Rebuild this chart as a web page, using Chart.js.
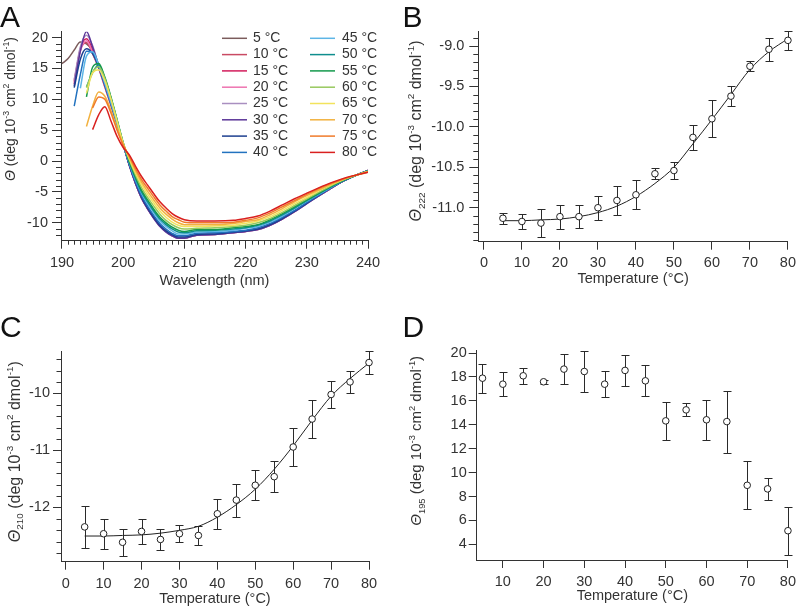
<!DOCTYPE html>
<html>
<head>
<meta charset="utf-8">
<script src="https://cdn.jsdelivr.net/npm/chart.js@4.4.1/dist/chart.umd.min.js"></script>
<style>
html,body{margin:0;padding:0;background:#fff;}
#wrap{position:relative;width:801px;height:610px;overflow:hidden;background:#fff;}
#wrap canvas{position:absolute;}
</style>
</head>
<body>
<div id="wrap">
<canvas id="cA" width="400" height="300" style="left:0px;top:0px"></canvas>
<canvas id="cB" width="401" height="300" style="left:400px;top:0px"></canvas>
<canvas id="cC" width="400" height="310" style="left:0px;top:300px"></canvas>
<canvas id="cD" width="401" height="310" style="left:400px;top:300px"></canvas>
</div>
<script>
// ---------------- DATA ----------------
// Panel A: CD spectra (wavelength in nm, Θ in 10^3 deg cm2 dmol-1)
const wavelengths = [190,191,192,193,194,195,196,197,198,199,200,201,202,203,204,205,206,207,208,209,210,212,215,218,220,222,224,226,228,230,233,236,240];
const tempLabels = ['5 °C','10 °C','15 °C','20 °C','25 °C','30 °C','35 °C','40 °C','45 °C','50 °C','55 °C','60 °C','65 °C','70 °C','75 °C','80 °C'];
const spec05 = [15.8,16.6,18.0,19.3,19.0,17.9,15.2,12.2,9.2,6.0,2.8, -0.6,-3.5,-5.9,-7.6,-9.1,-10.4,-11.3,-12.0,-12.4,-12.4,-11.9,-11.8,-11.5,-11.3,-11.0,-10.3,-9.3,-8.1,-6.8,-5.0,-3.2,-1.5];
const spec10 = [null,null,13.0,18.0,19.2,17.4,15.0,12.0,9.0,5.9,2.7, -0.6,-3.5,-5.9,-7.7,-9.2,-10.5,-11.4,-12.0,-12.4,-12.4,-11.9,-11.8,-11.5,-11.3,-11.0,-10.3,-9.3,-8.1,-6.8,-5.0,-3.2,-1.5];
const spec15 = [null,null,12.5,18.2,19.8,18.1,15.2,12.2,9.2,6.0,2.7, -0.7,-3.6,-6.0,-7.7,-9.2,-10.5,-11.4,-12.1,-12.5,-12.5,-12.0,-11.9,-11.6,-11.4,-11.1,-10.4,-9.4,-8.2,-6.8,-5.0,-3.2,-1.5];
const spec20 = [null,null,12.8,17.8,19.5,17.6,15.1,12.1,9.1,5.9,2.6, -0.6,-3.5,-5.9,-7.7,-9.2,-10.5,-11.4,-12.0,-12.4,-12.3,-11.9,-11.8,-11.5,-11.3,-11.0,-10.3,-9.3,-8.1,-6.8,-5.0,-3.2,-1.5];
const spec25 = [null,null,13.2,18.5,20.4,18.7,15.4,12.3,9.2,6.0,2.7, -0.7,-3.6,-6.0,-7.7,-9.2,-10.5,-11.4,-12.1,-12.5,-12.5,-12.0,-11.9,-11.6,-11.4,-11.1,-10.4,-9.4,-8.2,-6.9,-5.0,-3.2,-1.5];
const spec30 = [null,null,12.2,17.8,21.0,18.5,15.5,12.4,9.3,6.0,2.7, -0.7,-3.6,-6.0,-7.8,-9.3,-10.6,-11.5,-12.1,-12.5,-12.5,-12.0,-11.9,-11.6,-11.4,-11.1,-10.4,-9.4,-8.2,-6.9,-5.0,-3.2,-1.5];
const spec35 = [null,null,11.9,16.5,18.2,17.4,15.2,12.3,9.3,6.0,2.7, -0.6,-3.4,-5.8,-7.6,-9.1,-10.4,-11.3,-11.9,-12.3,-12.3,-11.9,-11.8,-11.5,-11.3,-11.0,-10.3,-9.3,-8.1,-6.8,-4.9,-3.2,-1.5];
const spec40 = [null,null,8.9,14.0,17.8,17.6,15.4,12.4,9.4,6.1,2.8, -0.5,-3.3,-5.6,-7.3,-8.8,-10.1,-11.0,-11.7,-12.1,-12.1,-11.7,-11.6,-11.4,-11.2,-10.8,-10.1,-9.1,-8.0,-6.7,-4.9,-3.2,-1.5];
const spec45 = [null,null,null,11.8,17.0,17.7,15.6,12.6,9.5,6.1,2.7, -0.3,-3.0,-5.2,-6.9,-8.4,-9.7,-10.6,-11.3,-11.8,-11.8,-11.5,-11.4,-11.2,-10.9,-10.6,-9.9,-8.9,-7.7,-6.5,-4.8,-3.1,-1.6];
const spec50 = [null,null,null,null,12.0,14.3,15.6,13.4,10.2,6.6,2.9, -0.2,-2.8,-5.0,-6.6,-8.1,-9.4,-10.3,-11.0,-11.5,-11.6,-11.3,-11.2,-11.0,-10.8,-10.4,-9.7,-8.7,-7.6,-6.4,-4.7,-3.1,-1.6];
const spec55 = [null,null,null,null,10.4,15.2,15.8,13.6,10.4,6.7,3.0, -0.1,-2.5,-4.7,-6.3,-7.8,-9.1,-10.0,-10.7,-11.2,-11.4,-11.1,-11.1,-10.8,-10.6,-10.3,-9.5,-8.5,-7.4,-6.3,-4.6,-3.1,-1.6];
const spec60 = [null,null,null,null,11.9,14.4,15.3,13.4,10.2,6.6,2.9, 0.2,-2.2,-4.3,-5.9,-7.3,-8.6,-9.6,-10.3,-10.8,-11.0,-10.9,-10.8,-10.6,-10.4,-10.0,-9.3,-8.3,-7.2,-6.1,-4.5,-3.0,-1.7];
const spec65 = [null,null,null,null,11.0,14.3,14.8,13.0,10.0,6.4,2.9, 0.4,-1.9,-3.8,-5.4,-6.8,-8.1,-9.1,-9.9,-10.4,-10.6,-10.6,-10.5,-10.4,-10.1,-9.7,-9.0,-8.0,-6.9,-5.9,-4.3,-3.0,-1.7];
const spec70 = [null,null,null,null,5.6,8.9,11.2,10.5,8.2,5.3,2.7, 0.6,-1.5,-3.4,-4.9,-6.3,-7.6,-8.6,-9.4,-10.0,-10.3,-10.3,-10.3,-10.1,-9.8,-9.5,-8.7,-7.7,-6.6,-5.6,-4.2,-2.9,-1.7];
const spec75 = [null,null,null,null,null,8.6,10.4,10.0,7.8,5.0,2.6, 0.8,-1.2,-3.0,-4.4,-5.8,-7.1,-8.1,-9.0,-9.5,-9.9,-10.0,-10.0,-9.9,-9.6,-9.2,-8.4,-7.4,-6.4,-5.4,-4.0,-2.9,-1.8];
const spec80 = [null,null,null,null,null,5.1,7.5,8.8,6.5,4.0,2.2, 1.0,-0.8,-2.5,-3.9,-5.3,-6.6,-7.6,-8.5,-9.1,-9.5,-9.7,-9.7,-9.6,-9.3,-8.9,-8.1,-7.1,-6.1,-5.2,-3.9,-2.8,-1.8];

// Panels B-D: temperature series
const temps = [5,10,15,20,25,30,35,40,45,50,55,60,65,70,75,80];
const theta222 = [-11.13,-11.17,-11.19,-11.11,-11.11,-11.00,-10.91,-10.84,-10.58,-10.54,-10.13,-9.90,-9.62,-9.25,-9.04,-8.93];
const err222   = [0.07,0.09,0.17,0.15,0.14,0.15,0.18,0.18,0.07,0.10,0.15,0.23,0.12,0.06,0.14,0.12];
const fitTemps = [5,10,15,20,25,30,35,40,45,50,55,60,65,70,75,80];
const fit222   = [-11.16,-11.16,-11.15,-11.14,-11.11,-11.06,-10.98,-10.86,-10.70,-10.50,-10.21,-9.91,-9.60,-9.29,-9.07,-8.91];
const theta210 = [-12.34,-12.46,-12.61,-12.42,-12.56,-12.46,-12.49,-12.11,-11.87,-11.61,-11.46,-10.94,-10.45,-10.02,-9.80,-9.46];
const err210   = [0.37,0.26,0.24,0.22,0.19,0.15,0.16,0.26,0.29,0.26,0.27,0.33,0.33,0.23,0.19,0.20];
const fit210   = [-12.50,-12.50,-12.49,-12.48,-12.45,-12.40,-12.33,-12.17,-11.95,-11.68,-11.33,-10.92,-10.47,-10.05,-9.74,-9.47];
const theta195 = [17.9,17.4,18.1,17.6,18.66,18.46,17.4,18.55,17.68,14.33,15.25,14.42,14.27,8.94,8.64,5.14];
const err195   = [1.2,1.0,0.65,0.15,1.25,1.75,1.1,1.3,1.3,1.6,0.55,1.65,2.6,2.0,0.9,2.0];

// Tick values
const ticksAx = [190,200,210,220,230,240];
const ticksAy = [-10,-5,0,5,10,15,20];
const ticksTemp = [0,10,20,30,40,50,60,70,80];
const ticksDx = [10,20,30,40,50,60,70,80];
const ticksBy = [-11.0,-10.5,-10.0,-9.5,-9.0];
const ticksCy = [-12,-11,-10];
const ticksDy = [4,6,8,10,12,14,16,18,20];

// Texts
const thetaUnitRuns = [{t:' (deg 10'},{t:'-3',sup:true},{t:' cm'},{t:'2',sup:true},{t:' dmol'},{t:'-1',sup:true},{t:')'}];

// ---------------- STYLE / HELPERS ----------------
const FONT = '"Liberation Sans", Arial, Helvetica, sans-serif';
const INK = '#333333';
const lineColors = ['#7b5c5c','#c94a63','#d21c5c','#ee74b0','#a98fc0','#5b3598','#1d3f8f','#2272bf','#5db5e6','#0f8e8e','#14994c','#97c95e','#f2e35c','#f2b13f','#f07a2a','#d9201f'];

Chart.defaults.font.family = FONT;
Chart.defaults.color = INK;

function runFont(r, size){
  const s = (r.sup || r.sub) ? +(size*0.62).toFixed(1) : size;
  return (r.it ? 'italic ' : '') + s + 'px ' + FONT;
}
function richWidth(ctx, runs, size){
  let w = 0;
  for (const r of runs){ ctx.font = runFont(r,size); w += ctx.measureText(r.t).width; }
  return w;
}
function drawRich(ctx, runs, size, x0, y0){
  let x = x0;
  for (const r of runs){
    ctx.font = runFont(r,size);
    const dy = r.sup ? -size*0.42 : (r.sub ? size*0.24 : 0);
    ctx.fillText(r.t, x, y0+dy);
    x += ctx.measureText(r.t).width;
  }
}

const cfgs = {};
const decor = {
  id:'decor',
  beforeDatasetsDraw(chart){
    const c = cfgs[chart.canvas.id]; if(!c || !c.errors) return;
    const e = c.errors, xs = chart.scales.x, ys = chart.scales.y, ctx = chart.ctx;
    ctx.save(); ctx.strokeStyle = '#2a2a2a'; ctx.lineWidth = 1; ctx.beginPath();
    e.x.forEach((t,i)=>{
      const px = Math.round(xs.getPixelForValue(t)) + 0.5;
      const yT = Math.round(ys.getPixelForValue(e.y[i]+e.err[i])) + 0.5;
      const yB = Math.round(ys.getPixelForValue(e.y[i]-e.err[i])) + 0.5;
      ctx.moveTo(px,yT); ctx.lineTo(px,yB);
      ctx.moveTo(px-e.cap,yT); ctx.lineTo(px+e.cap,yT);
      ctx.moveTo(px-e.cap,yB); ctx.lineTo(px+e.cap,yB);
    });
    ctx.stroke(); ctx.restore();
  },
  afterDraw(chart){
    const c = cfgs[chart.canvas.id]; if(!c) return;
    const ctx = chart.ctx, ca = chart.chartArea;
    ctx.save();
    // minor ticks
    ctx.strokeStyle = INK; ctx.lineWidth = 1; ctx.beginPath();
    (c.minor||[]).forEach(m=>{
      const sc = chart.scales[m.axis];
      for(let i=0;;i++){
        const v = +(m.start + i*m.step).toFixed(6);
        if (v > sc.max + 1e-9) break;
        if (v < sc.min - 1e-9) continue;
        if (m.major.some(q=>Math.abs(q-v)<1e-6)) continue;
        const p = Math.round(sc.getPixelForValue(v)) + 0.5;
        if (sc.isHorizontal()){ ctx.moveTo(p, ca.bottom); ctx.lineTo(p, ca.bottom + m.len); }
        else { ctx.moveTo(ca.left, p); ctx.lineTo(ca.left - m.len, p); }
      }
    });
    ctx.stroke();
    // panel letter
    ctx.fillStyle = '#111'; ctx.textBaseline = 'alphabetic'; ctx.textAlign = 'left';
    ctx.font = '30px ' + FONT;
    ctx.fillText(c.letter.t, c.letter.x, c.letter.y);
    // x title
    ctx.fillStyle = INK;
    const xt = c.xTitle;
    const xw = richWidth(ctx, xt.runs, xt.size);
    drawRich(ctx, xt.runs, xt.size, (ca.left+ca.right)/2 - xw/2, ca.bottom + xt.dy);
    // y title (rotated)
    const yt = c.yTitle;
    const yw = richWidth(ctx, yt.runs, yt.size);
    ctx.save(); ctx.translate(yt.x, yt.y); ctx.rotate(-Math.PI/2);
    drawRich(ctx, yt.runs, yt.size, -yw/2, 0);
    ctx.restore();
    // legend
    if (c.legend){
      const L = c.legend;
      ctx.textBaseline = 'middle'; ctx.font = L.size + 'px ' + FONT;
      chart.data.datasets.forEach((ds,i)=>{
        const col = i < L.perCol ? 0 : 1, row = i % L.perCol;
        const y = L.y0 + row*L.dy;
        ctx.strokeStyle = ds.borderColor; ctx.lineWidth = 1.5;
        ctx.beginPath(); ctx.moveTo(L.cols[col][0], y); ctx.lineTo(L.cols[col][1], y); ctx.stroke();
        ctx.fillStyle = INK; ctx.fillText(ds.label, L.cols[col][2], y);
      });
    }
    ctx.restore();
  }
};

function linScale(min, max, ticks, fmt, o){
  return {
    type:'linear', min:min, max:max,
    afterBuildTicks: sc => { sc.ticks = ticks.map(v=>({value:v})); },
    afterFit: sc => { if (sc.isHorizontal()) sc.height = o.size; else sc.width = o.size; },
    ticks:{ autoSkip:false, maxRotation:0, minRotation:0, padding:o.pad, color:INK,
            font:{family:FONT, size:o.font}, callback:(v)=>fmt(v) },
    grid:{ display:true, drawOnChartArea:false, drawTicks:true, tickLength:o.tick, color:INK, tickColor:INK, lineWidth:1, tickWidth:1 },
    border:{ display:true, color:INK, width:1 },
    title:{ display:false }
  };
}
function baseOpts(pad, xs, ys){
  return {
    responsive:false, maintainAspectRatio:false, animation:false, devicePixelRatio:1,
    events:[], layout:{ padding:pad },
    plugins:{ legend:{display:false}, tooltip:{enabled:false} },
    scales:{ x:xs, y:ys }
  };
}

// ---------------- PANEL A ----------------
const spectra = [spec05,spec10,spec15,spec20,spec25,spec30,spec35,spec40,spec45,spec50,spec55,spec60,spec65,spec70,spec75,spec80];
cfgs.cA = {
  letter:{t:'A', x:0, y:27},
  minor:[{axis:'x', start:190, step:1, len:4, major:ticksAx},{axis:'y', start:-12, step:1, len:5, major:ticksAy}],
  xTitle:{runs:[{t:'Wavelength (nm)'}], size:14.5, dy:44.5},
  yTitle:{runs:[{t:'Θ',it:true}].concat(thetaUnitRuns), size:14, x:15, y:109},
  legend:{perCol:8, y0:38.3, dy:16.3, size:14, cols:[[222,247,253],[310,335,342]]}
};
new Chart(document.getElementById('cA'), {
  type:'line',
  data:{ datasets: spectra.map((vals,i)=>({
    label: tempLabels[i],
    data: wavelengths.map((w,j)=>({x:w, y:vals[j]})),
    borderColor: lineColors[i], backgroundColor: lineColors[i],
    borderWidth:1.5, pointRadius:0, cubicInterpolationMode:'monotone', spanGaps:false, fill:false,
    order: spectra.length - 1 - i
  }))},
  options: baseOpts({left:0, top:31.7, right:32, bottom:0},
    linScale(189.84, 240, ticksAx, v=>String(v), {size:59.3, pad:6, font:14.5, tick:8}),
    linScale(-12.9, 20.96, ticksAy, v=>String(v), {size:61, pad:4, font:14.5, tick:9})),
  plugins:[decor]
});

// ---------------- PANEL B ----------------
cfgs.cB = {
  letter:{t:'B', x:2.5, y:27},
  minor:[{axis:'y', start:-11.4, step:0.1, len:5, major:ticksBy}],
  errors:{x:temps, y:theta222, err:err222, cap:4},
  xTitle:{runs:[{t:'Temperature (°C)'}], size:14.5, dy:41.6},
  yTitle:{runs:[{t:'Θ',it:true},{t:'222',sub:true}].concat(thetaUnitRuns), size:16, x:21, y:131},
};
new Chart(document.getElementById('cB'), {
  type:'line',
  data:{ datasets:[
    { label:'Θ222', data: temps.map((t,i)=>({x:t,y:theta222[i]})), showLine:false, pointRadius:3.3,
      pointBackgroundColor:'#fff', pointBorderColor:'#222', pointBorderWidth:1, clip:false },
    { label:'fit', data: fitTemps.map((t,i)=>({x:t,y:fit222[i]})), borderColor:'#222', borderWidth:1,
      pointRadius:0, cubicInterpolationMode:'monotone', fill:false }
  ]},
  options: baseOpts({left:0, top:31.7, right:8.7, bottom:0},
    linScale(-1.48, 80, ticksTemp, v=>String(v), {size:58.3, pad:5, font:14.5, tick:8}),
    linScale(-11.42, -8.823, ticksBy, v=>v.toFixed(1), {size:78.3, pad:5, font:14.5, tick:9})),
  plugins:[decor]
});

// ---------------- PANEL C ----------------
cfgs.cC = {
  letter:{t:'C', x:0, y:37},
  minor:[{axis:'y', start:-12.8, step:0.2, len:4.5, major:ticksCy}],
  errors:{x:temps, y:theta210, err:err210, cap:4},
  xTitle:{runs:[{t:'Temperature (°C)'}], size:14.5, dy:41.6},
  yTitle:{runs:[{t:'Θ',it:true},{t:'210',sub:true}].concat(thetaUnitRuns), size:16, x:19.5, y:151.7},
};
new Chart(document.getElementById('cC'), {
  type:'line',
  data:{ datasets:[
    { label:'Θ210', data: temps.map((t,i)=>({x:t,y:theta210[i]})), showLine:false, pointRadius:3.3,
      pointBackgroundColor:'#fff', pointBorderColor:'#222', pointBorderWidth:1, clip:false },
    { label:'fit', data: fitTemps.map((t,i)=>({x:t,y:fit210[i]})), borderColor:'#222', borderWidth:1,
      pointRadius:0, cubicInterpolationMode:'monotone', fill:false }
  ]},
  options: baseOpts({left:0, top:51.7, right:31, bottom:0},
    linScale(-1.24, 80, ticksTemp, v=>String(v), {size:48.3, pad:6, font:14.5, tick:8}),
    linScale(-12.95, -9.27, ticksCy, v=>String(v), {size:61, pad:3, font:14.5, tick:8})),
  plugins:[decor]
});

// ---------------- PANEL D ----------------
cfgs.cD = {
  letter:{t:'D', x:2.5, y:37},
  minor:[],
  errors:{x:temps, y:theta195, err:err195, cap:4},
  xTitle:{runs:[{t:'Temperature (°C)'}], size:14.5, dy:40},
  yTitle:{runs:[{t:'Θ',it:true},{t:'195',sub:true}].concat(thetaUnitRuns), size:15, x:21, y:140.8},
};
new Chart(document.getElementById('cD'), {
  type:'line',
  data:{ datasets:[
    { label:'Θ195', data: temps.map((t,i)=>({x:t,y:theta195[i]})), showLine:false, pointRadius:3.3,
      pointBackgroundColor:'#fff', pointBorderColor:'#222', pointBorderWidth:1, clip:false }
  ]},
  options: baseOpts({left:0, top:50.7, right:7.7, bottom:0},
    linScale(3.58, 80, ticksDx, v=>String(v), {size:50, pad:5, font:14.5, tick:8}),
    linScale(2.69, 20.2, ticksDy, v=>String(v), {size:76.7, pad:2, font:14.5, tick:8})),
  plugins:[decor]
});
</script>
</body>
</html>
